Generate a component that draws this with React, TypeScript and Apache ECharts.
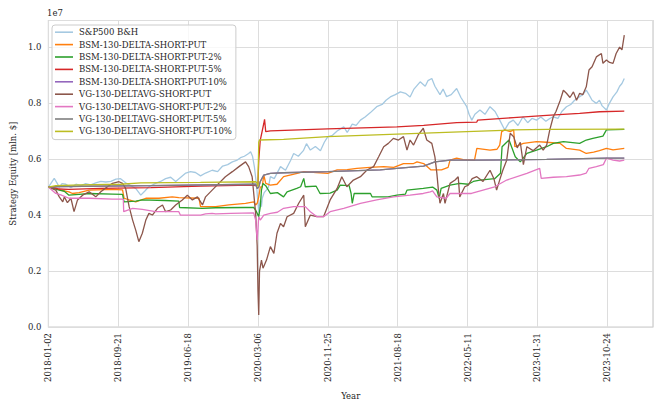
import React, { useEffect, useRef } from "react";
import * as echarts from "echarts";

// x = trading-day index since 2018-01-02, y = equity in millions of $
const X_TICK_LABELS = [
  "2018-01-02", "2018-09-21", "2019-06-18", "2020-03-06", "2020-11-25",
  "2021-08-18", "2022-05-11", "2023-01-31", "2023-10-24",
];
const X_TICK_STEP = 180;
const Y_TICKS_STEP = 2e6;

const SERIES_NAMES = [
  "S&P500 B&H",
  "BSM-130-DELTA-SHORT-PUT",
  "BSM-130-DELTA-SHORT-PUT-2%",
  "BSM-130-DELTA-SHORT-PUT-5%",
  "BSM-130-DELTA-SHORT-PUT-10%",
  "VG-130-DELTAVG-SHORT-PUT",
  "VG-130-DELTAVG-SHORT-PUT-2%",
  "VG-130-DELTAVG-SHORT-PUT-5%",
  "VG-130-DELTAVG-SHORT-PUT-10%",
];

const SP500 = [
  [0, 5.0], [6, 5.12], [15, 5.31], [22, 5.15], [28, 5.0], [35, 5.12], [45, 5.1], [58, 4.98],
  [71, 5.1], [84, 5.05], [96, 5.12], [109, 5.08], [122, 5.15], [135, 5.2], [148, 5.18],
  [161, 5.2], [174, 5.28], [186, 5.3], [199, 5.15], [212, 5.05], [225, 4.95], [238, 4.71],
  [248, 4.85], [258, 5.0], [276, 5.13], [289, 5.2], [302, 5.3], [315, 5.35], [328, 5.2],
  [341, 5.35], [354, 5.5], [366, 5.55], [379, 5.52], [392, 5.4], [405, 5.5], [422, 5.6],
  [436, 5.55], [449, 5.75], [462, 5.8], [474, 5.9], [485, 5.95], [495, 6.05], [505, 6.1],
  [516, 6.2], [521, 6.26], [526, 6.1], [531, 5.7], [536, 5.1], [539, 4.6], [542, 4.12],
  [546, 4.55], [549, 4.3], [551, 4.6], [556, 4.8], [562, 4.9], [567, 5.0], [572, 5.37],
  [582, 5.3], [598, 5.73], [611, 5.6], [624, 5.95], [632, 6.2], [644, 6.1], [657, 6.3],
  [665, 6.55], [675, 6.32], [688, 6.45], [701, 6.3], [711, 6.6], [720, 6.8], [732, 6.85],
  [744, 7.0], [761, 7.15], [770, 6.95], [783, 7.25], [793, 7.2], [804, 7.39], [816, 7.5],
  [829, 7.65], [846, 7.87], [860, 7.95], [870, 8.1], [881, 8.22], [894, 8.3], [907, 8.4],
  [920, 8.35], [932, 8.22], [942, 8.5], [958, 8.76], [971, 8.6], [978, 8.8], [988, 8.88],
  [996, 8.6], [1009, 8.3], [1017, 8.5], [1026, 8.23], [1038, 8.3], [1052, 8.52], [1063, 8.2],
  [1078, 7.87], [1084, 7.6], [1091, 7.39], [1099, 7.6], [1112, 7.75], [1125, 7.6], [1138, 7.87],
  [1151, 7.7], [1163, 7.39], [1176, 7.04], [1187, 7.3], [1198, 7.39], [1210, 7.2], [1223, 7.51],
  [1235, 7.3], [1246, 7.45], [1258, 7.39], [1269, 7.5], [1282, 7.35], [1292, 7.45], [1301, 7.51],
  [1313, 7.45], [1323, 7.7], [1335, 7.87], [1346, 7.95], [1356, 8.1], [1369, 8.23], [1377, 8.3],
  [1386, 8.46], [1393, 8.3], [1401, 8.1], [1412, 7.99], [1420, 8.1], [1427, 7.9], [1438, 7.75],
  [1446, 8.0], [1455, 8.22], [1465, 8.4], [1472, 8.6], [1478, 8.7], [1484, 8.88],
];

const BSM_PUT = [
  [0, 5.0], [19, 4.95], [32, 4.89], [53, 4.83], [62, 4.77], [79, 4.8], [105, 4.89], [165, 4.92],
  [191, 4.9], [195, 4.6], [208, 4.54], [225, 4.47], [251, 4.6], [285, 4.6], [319, 4.65],
  [336, 4.62], [388, 4.6], [392, 4.3], [405, 4.3], [431, 4.3], [465, 4.36], [508, 4.42],
  [529, 4.47], [534, 4.36], [538, 4.42], [542, 4.65], [546, 5.0], [551, 5.01], [555, 5.43],
  [560, 5.13], [572, 5.07], [589, 5.1], [606, 5.37], [641, 5.49], [658, 5.55], [690, 5.52],
  [720, 5.49], [744, 5.61], [770, 5.62], [795, 5.67], [829, 5.7], [864, 5.73], [890, 5.7],
  [915, 5.84], [941, 5.84], [950, 5.9], [967, 5.84], [986, 5.61], [1013, 5.61], [1030, 5.7],
  [1035, 5.96], [1052, 6.03], [1069, 5.98], [1098, 5.96], [1104, 6.38], [1138, 6.32],
  [1156, 6.35], [1163, 6.5], [1168, 6.98], [1176, 7.04], [1190, 6.98], [1199, 7.04],
  [1202, 6.44], [1224, 6.56], [1258, 6.62], [1284, 6.6], [1319, 6.56], [1335, 6.38],
  [1369, 6.32], [1386, 6.2], [1405, 6.25], [1420, 6.3], [1438, 6.38], [1455, 6.33], [1484, 6.38],
];

const BSM_PUT_2 = [
  [0, 5.0], [28, 4.89], [41, 4.85], [53, 4.71], [79, 4.74], [105, 4.77], [165, 4.75], [191, 4.74],
  [195, 4.47], [225, 4.5], [242, 4.54], [300, 4.52], [336, 4.5], [338, 4.27], [397, 4.24],
  [431, 4.26], [508, 4.27], [529, 4.27], [534, 4.18], [538, 4.06], [542, 3.94], [546, 4.3],
  [549, 4.89], [553, 5.13], [560, 5.05], [572, 4.77], [590, 4.8], [606, 4.65], [615, 4.83],
  [640, 4.95], [650, 5.01], [658, 5.31], [662, 5.01], [690, 5.03], [700, 4.77], [726, 4.78],
  [744, 4.89], [752, 5.07], [775, 5.05], [780, 4.77], [783, 4.42], [788, 4.77], [830, 4.77],
  [834, 4.65], [875, 4.65], [898, 4.71], [920, 4.75], [924, 4.89], [966, 4.95], [990, 5.0],
  [1001, 4.89], [1007, 4.6], [1012, 4.95], [1035, 5.07], [1060, 5.13], [1082, 5.1], [1095, 5.2],
  [1112, 5.25], [1150, 5.3], [1165, 5.49], [1169, 6.44], [1187, 6.68], [1203, 6.08], [1216, 5.9],
  [1233, 6.2], [1258, 6.32], [1284, 6.44], [1301, 6.56], [1327, 6.62], [1369, 6.56],
  [1386, 6.68], [1403, 6.74], [1429, 6.82], [1438, 7.04], [1484, 7.06],
];

const BSM_PUT_5 = [
  [0, 5.0], [14, 4.98], [27, 4.93], [53, 4.92], [135, 4.95], [264, 4.98], [392, 5.03], [521, 5.07],
  [538, 5.05], [540, 5.13], [542, 5.96], [546, 6.68], [555, 7.27], [557, 7.42], [560, 6.98],
  [572, 7.01], [720, 7.08], [898, 7.15], [967, 7.2], [1052, 7.3], [1104, 7.32], [1106, 7.39],
  [1198, 7.48], [1284, 7.56], [1369, 7.63], [1420, 7.69], [1484, 7.71],
];

const BSM_PUT_10 = [
  [0, 5.0], [32, 5.02], [264, 5.05], [534, 5.1], [538, 4.95], [542, 5.0], [546, 5.2], [555, 5.43],
  [572, 5.49], [606, 5.51], [720, 5.55], [855, 5.61], [898, 5.67], [967, 5.75], [996, 5.9],
  [1035, 5.96], [1112, 5.96], [1284, 5.99], [1438, 6.03], [1484, 6.03],
];

const VG_PUT = [
  [0, 5.0], [19, 4.89], [28, 4.65], [37, 4.47], [41, 4.65], [49, 4.44], [58, 4.6], [66, 4.12],
  [75, 4.54], [88, 4.71], [105, 4.83], [122, 4.65], [135, 4.83], [152, 5.01], [165, 5.13],
  [182, 5.19], [191, 5.13], [199, 4.95], [208, 4.3], [217, 3.82], [225, 3.46], [233, 3.05],
  [242, 3.35], [251, 3.82], [259, 4.06], [268, 4.0], [281, 4.24], [294, 4.36], [302, 4.12],
  [315, 4.18], [328, 4.36], [345, 4.54], [358, 4.71], [371, 4.54], [384, 4.65], [397, 4.36],
  [405, 4.65], [422, 4.89], [439, 5.13], [456, 5.37], [474, 5.55], [491, 5.73], [508, 5.9],
  [516, 5.73], [525, 5.37], [534, 4.06], [538, 2.9], [540, 1.3], [542, 0.43], [544, 2.0],
  [546, 2.15], [549, 2.39], [553, 2.1], [562, 2.39], [572, 2.87], [581, 2.63], [589, 3.35],
  [598, 3.7], [606, 3.58], [615, 3.94], [632, 4.06], [645, 4.42], [658, 4.71], [662, 3.58],
  [675, 4.0], [692, 3.94], [709, 3.94], [726, 4.54], [744, 4.95], [756, 5.37], [769, 5.01],
  [786, 5.25], [804, 5.37], [821, 5.61], [838, 5.73], [851, 6.08], [864, 6.44], [876, 6.56],
  [889, 6.74], [902, 6.68], [915, 6.8], [924, 6.32], [932, 6.68], [941, 6.5], [953, 6.86],
  [966, 7.1], [975, 6.68], [988, 6.56], [996, 6.08], [1001, 5.49], [1005, 4.89], [1009, 4.42],
  [1018, 4.77], [1022, 4.42], [1035, 5.13], [1048, 5.25], [1056, 5.37], [1060, 4.65],
  [1073, 5.01], [1082, 5.07], [1092, 5.3], [1104, 5.37], [1120, 5.2], [1138, 5.6], [1148, 5.3],
  [1155, 4.89], [1164, 5.3], [1171, 5.6], [1181, 5.96], [1190, 6.92], [1199, 6.8], [1208, 6.4],
  [1216, 6.6], [1224, 5.8], [1233, 6.44], [1249, 6.3], [1266, 6.5], [1275, 6.32], [1284, 6.5],
  [1292, 7.04], [1301, 7.51], [1308, 7.7], [1319, 8.1], [1327, 8.46], [1335, 8.35], [1344, 8.2],
  [1353, 8.4], [1361, 8.1], [1369, 8.35], [1377, 8.3], [1386, 8.58], [1393, 9.18], [1401, 9.3],
  [1412, 9.65], [1425, 9.77], [1429, 9.42], [1438, 9.54], [1446, 9.45], [1455, 9.42],
  [1463, 9.77], [1472, 10.0], [1478, 9.9], [1484, 10.43],
];

const VG_PUT_2 = [
  [0, 5.0], [19, 4.77], [32, 4.72], [53, 4.6], [105, 4.6], [165, 4.57], [193, 4.57], [194, 4.12],
  [217, 4.24], [242, 4.2], [276, 4.12], [336, 4.12], [340, 4.0], [392, 4.0], [405, 4.04],
  [422, 4.06], [431, 4.04], [470, 4.06], [529, 4.08], [534, 3.82], [538, 3.11], [542, 3.94],
  [546, 3.82], [555, 4.0], [572, 4.06], [590, 4.1], [606, 4.24], [632, 4.3], [662, 4.3],
  [675, 4.12], [692, 3.94], [709, 3.94], [726, 4.12], [761, 4.24], [804, 4.42], [846, 4.54],
  [889, 4.65], [932, 4.71], [966, 4.77], [984, 4.83], [990, 4.86], [1001, 4.65], [1025, 4.6],
  [1035, 4.77], [1073, 4.77], [1090, 4.77], [1150, 5.01], [1181, 5.25], [1233, 5.49],
  [1266, 5.67], [1270, 5.31], [1301, 5.35], [1335, 5.37], [1369, 5.43], [1386, 5.5],
  [1393, 5.67], [1412, 5.73], [1430, 5.8], [1438, 6.03], [1455, 5.96], [1472, 5.93], [1484, 5.96],
];

const VG_PUT_5 = [
  [0, 5.0], [32, 5.02], [264, 5.05], [534, 5.1], [538, 4.95], [542, 5.0], [546, 5.2], [555, 5.43],
  [572, 5.49], [606, 5.51], [720, 5.55], [855, 5.61], [898, 5.67], [967, 5.75], [996, 5.9],
  [1035, 5.96], [1112, 5.96], [1284, 5.99], [1438, 6.03], [1484, 6.03],
];

const VG_PUT_10 = [
  [0, 5.0], [19, 5.05], [84, 5.08], [186, 5.1], [238, 5.15], [392, 5.17], [534, 5.19], [538, 5.13],
  [540, 5.02], [542, 6.6], [544, 6.68], [606, 6.7], [720, 6.8], [898, 6.89], [1078, 6.98],
  [1198, 7.04], [1284, 7.06], [1484, 7.07],
];

const SERIES_VALUES = [
  SP500, BSM_PUT, BSM_PUT_2, BSM_PUT_5, BSM_PUT_10, VG_PUT, VG_PUT_2, VG_PUT_5, VG_PUT_10,
];

const COLORS = [
  "#a5c9e1", "#ff7f0e", "#2ca02c", "#d62728", "#9467bd",
  "#8c564b", "#e377c2", "#7f7f7f", "#bcbd22",
];

const FONT = "DejaVu Serif";
const TEXT_COLOR = "#262626";
const FS = 8.5;

export default function App() {
  const ref = useRef<HTMLDivElement>(null);

  useEffect(() => {
    if (!ref.current) return;
    const chart = echarts.init(ref.current, null, { renderer: "svg" });

    const series = SERIES_NAMES.map((name, i) => ({
      name,
      type: "line",
      data: SERIES_VALUES[i].map(([x, v]) => [x, v * 1e6]),
      showSymbol: false,
      symbol: "none",
      lineStyle: { width: 1.3, color: COLORS[i] },
      itemStyle: { color: COLORS[i] },
      emphasis: { disabled: true },
    }));

    chart.setOption({
      animation: false,
      backgroundColor: "#ffffff",
      textStyle: { fontFamily: FONT },
      grid: {
        left: 47.5,
        right: 11,
        top: 20.5,
        bottom: 84,
        show: true,
        borderColor: "#cccccc",
        borderWidth: 1.2,
        backgroundColor: "transparent",
      },
      legend: {
        left: 52,
        top: 25,
        orient: "vertical",
        data: SERIES_NAMES,
        icon: "rect",
        itemWidth: 18,
        itemHeight: 1.6,
        itemGap: 0,
        padding: [1, 4, 2, 3],
        borderColor: "#cccccc",
        borderWidth: 1,
        borderRadius: 3,
        backgroundColor: "rgba(255,255,255,0.8)",
        textStyle: {
          fontFamily: FONT,
          fontSize: FS,
          color: TEXT_COLOR,
          lineHeight: 12.4,
          padding: [0, 0, 0, 1],
        },
      },
      xAxis: {
        type: "value",
        min: 0,
        max: 1558,
        interval: X_TICK_STEP,
        name: "Year",
        nameLocation: "middle",
        nameGap: 64,
        nameTextStyle: { fontFamily: FONT, fontSize: FS, color: TEXT_COLOR },
        axisLine: { show: false },
        axisTick: { show: false },
        axisLabel: {
          rotate: 90,
          margin: 6,
          fontFamily: FONT,
          fontSize: FS,
          color: TEXT_COLOR,
          showMaxLabel: true,
          formatter: (v: number) => {
            const k = Math.round(v / X_TICK_STEP);
            return Math.abs(v - k * X_TICK_STEP) < 1e-6 && k < X_TICK_LABELS.length ? X_TICK_LABELS[k] : "";
          },
        },
        splitLine: { show: true, lineStyle: { color: "#dddddd", width: 1 } },
      },
      yAxis: {
        type: "value",
        min: 0,
        max: 10.95e6,
        interval: Y_TICKS_STEP,
        name: "Strategy Equity [mln. $]",
        nameLocation: "middle",
        nameGap: 28,
        nameTextStyle: { fontFamily: FONT, fontSize: FS, color: TEXT_COLOR },
        axisLine: { show: false },
        axisTick: { show: false },
        axisLabel: {
          margin: 7,
          fontFamily: FONT,
          fontSize: FS,
          color: TEXT_COLOR,
          formatter: (v: number) => {
            const k = Math.round(v / Y_TICKS_STEP);
            return Math.abs(v - k * Y_TICKS_STEP) < 1 ? (v / 1e7).toFixed(1) : "";
          },
        },
        splitLine: { show: true, lineStyle: { color: "#dddddd", width: 1 } },
      },
      graphic: [
        {
          type: "text",
          left: 47,
          top: 8,
          style: { text: "1e7", font: `${FS}px "${FONT}"`, fill: TEXT_COLOR },
        },
      ],
      series,
    });

    return () => chart.dispose();
  }, []);

  return (
    <div
      ref={ref}
      style={{ position: "fixed", left: 0, top: 0, width: 664, height: 411, background: "#fff" }}
    />
  );
}
